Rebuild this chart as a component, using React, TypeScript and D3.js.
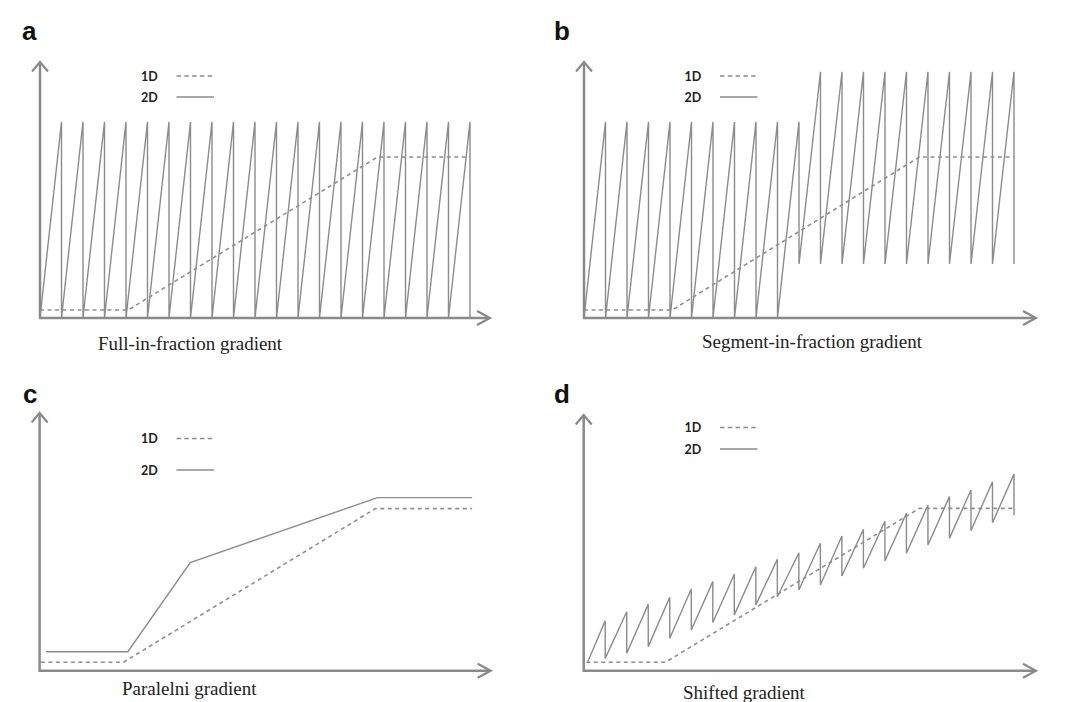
import React from 'react';
import * as d3 from 'd3';

// ---- data (x in "fraction" units 0..20, y in relative units 0..100) ----
const toothX = [1, 2, 3, 4, 5, 6, 7, 8, 9, 10, 11, 12, 13, 14, 15, 16, 17, 18, 19, 20];

// panel a: full-in-fraction gradient
const aStart = 0;
const aPeaks = [76.6, 76.6, 76.6, 76.6, 76.6, 76.6, 76.6, 76.6, 76.6, 76.6, 76.6, 76.6, 76.6, 76.6, 76.6, 76.6, 76.6, 76.6, 76.6, 76.6];
const aTroughs = [0, 0, 0, 0, 0, 0, 0, 0, 0, 0, 0, 0, 0, 0, 0, 0, 0, 0, 0, 0];
const a1DX = [0, 4.1, 15.7, 20];
const a1DY = [3.1, 3.1, 62.9, 62.9];

// panel b: segment-in-fraction gradient
const bStart = 0;
const bPeaks = [76.6, 76.6, 76.6, 76.6, 76.6, 76.6, 76.6, 76.6, 76.6, 76.6, 96.2, 96.2, 96.2, 96.2, 96.2, 96.2, 96.2, 96.2, 96.2, 96.2];
const bTroughs = [0, 0, 0, 0, 0, 0, 0, 0, 0, 21.1, 21.1, 21.1, 21.1, 21.1, 21.1, 21.1, 21.1, 21.1, 21.1, 21.1];
const b1DX = [0, 4.1, 15.6, 20];
const b1DY = [3.1, 3.1, 62.9, 62.9];

// panel c: paralelni gradient
const c1DX = [0.06, 3.9, 15.6, 20.1];
const c1DY = [3.3, 3.3, 63.3, 63.3];
const c2DX = [0.3, 4.1, 7.0, 15.7, 20.1];
const c2DY = [7.4, 7.4, 42.2, 67.6, 67.6];

// panel d: shifted gradient
const dStartX = 0.19;
const dStart = 3.5;
const dPeaks = [19.5, 23.0, 25.9, 28.7, 31.9, 34.8, 37.7, 40.6, 43.5, 46.1, 49.8, 52.6, 55.2, 58.4, 61.5, 64.7, 68.0, 70.6, 73.8, 76.8];
const dTroughs = [4.8, 6.8, 9.4, 12.7, 15.9, 18.8, 21.8, 25.7, 28.9, 31.5, 33.5, 37.0, 40.0, 42.9, 45.9, 49.1, 51.7, 54.7, 57.8, 60.8];
const d1DX = [0.12, 3.8, 15.6, 20];
const d1DY = [3.3, 3.3, 63.4, 63.4];

const legendLabels = ['1D', '2D'];
const panelLetters = ['a', 'b', 'c', 'd'];
const captions = ['Full-in-fraction gradient', 'Segment-in-fraction gradient', 'Paralelni gradient', 'Shifted gradient'];

type Pt = [number, number];

function sawtooth(startX: number, startY: number, xs: number[], peaks: number[], troughs: number[]): Pt[] {
  const pts: Pt[] = [[startX, startY]];
  xs.forEach((x, i) => {
    pts.push([x, peaks[i]]);
    pts.push([x, troughs[i]]);
  });
  return pts;
}

function zipPts(xs: number[], ys: number[]): Pt[] {
  return xs.map((x, i) => [x, ys[i]] as Pt);
}

const AXIS = '#8a8a8a';
const LINE = '#8c8c8c';

interface PanelProps {
  axisX: number;
  axisY: number;
  topY: number;
  rightX: number;
  plotRight: number;
  letter: string;
  letterX: number;
  letterY: number;
  caption: string;
  capX: number;
  capY: number;
  legX: number;
  legY: [number, number];
  solid: Pt[];
  dashed: Pt[];
}

function Panel(p: PanelProps) {
  const x = d3.scaleLinear().domain([0, 20]).range([p.axisX, p.plotRight]);
  const y = d3.scaleLinear().domain([0, 100]).range([p.axisY, p.axisY - 256]);
  const line = d3.line<Pt>().x((d) => x(d[0])).y((d) => y(d[1]));
  const legLineX1 = p.legX + 35.5;
  const legLineX2 = p.legX + 73;
  return (
    <g>
      <text x={p.letterX} y={p.letterY} fontFamily="'Liberation Sans', Arial, sans-serif" fontWeight="bold" fontSize={26} fill="#111">
        {p.letter}
      </text>
      {/* axes */}
      <line x1={p.axisX} y1={p.topY + 1} x2={p.axisX} y2={p.axisY} stroke={AXIS} strokeWidth={2.5} />
      <line x1={p.axisX - 1} y1={p.axisY} x2={p.rightX - 1} y2={p.axisY} stroke={AXIS} strokeWidth={2.5} />
      <path d={`M${p.axisX - 8},${p.topY + 9.5}L${p.axisX},${p.topY}L${p.axisX + 8},${p.topY + 9.5}`} fill="none" stroke={AXIS} strokeWidth={2.2} />
      <path d={`M${p.rightX - 13},${p.axisY - 7}L${p.rightX},${p.axisY}L${p.rightX - 13},${p.axisY + 7}`} fill="none" stroke={AXIS} strokeWidth={2.2} />
      {/* series */}
      <path d={line(p.dashed) || ''} fill="none" stroke="#8f8f8f" strokeWidth={1.6} strokeDasharray="4,3.5" />
      <path d={line(p.solid) || ''} fill="none" stroke={LINE} strokeWidth={1.4} strokeLinejoin="miter" />
      {/* legend */}
      {legendLabels.map((lab, i) => (
        <g key={lab}>
          <text x={p.legX} y={p.legY[i]} dy="0.36em" fontFamily="Lato, 'Open Sans', sans-serif" fontWeight="bold" fontSize={12.5} fill="#222">
            {lab}
          </text>
          <line x1={legLineX1} x2={legLineX2} y1={p.legY[i]} y2={p.legY[i]} stroke={LINE} strokeWidth={1.5} strokeDasharray={i === 0 ? '4.5,3.3' : undefined} />
        </g>
      ))}
      <text x={p.capX} y={p.capY} fontFamily="'Liberation Serif', 'Times New Roman', serif" fontSize={19} fill="#222">
        {p.caption}
      </text>
    </g>
  );
}

export default function App() {
  const panels: PanelProps[] = [
    {
      axisX: 40, axisY: 318, topY: 62, rightX: 490, plotRight: 470,
      letter: panelLetters[0], letterX: 22, letterY: 40,
      caption: captions[0], capX: 98, capY: 350,
      legX: 141, legY: [76, 97],
      solid: sawtooth(0, aStart, toothX, aPeaks, aTroughs),
      dashed: zipPts(a1DX, a1DY),
    },
    {
      axisX: 584, axisY: 318, topY: 62, rightX: 1036, plotRight: 1014,
      letter: panelLetters[1], letterX: 554, letterY: 40,
      caption: captions[1], capX: 702, capY: 348,
      legX: 684.5, legY: [76, 97],
      solid: sawtooth(0, bStart, toothX, bPeaks, bTroughs),
      dashed: zipPts(b1DX, b1DY),
    },
    {
      axisX: 39.6, axisY: 670.7, topY: 413, rightX: 490.7, plotRight: 470,
      letter: panelLetters[2], letterX: 23, letterY: 403,
      caption: captions[2], capX: 122, capY: 695,
      legX: 141, legY: [438.5, 470],
      solid: zipPts(c2DX, c2DY),
      dashed: zipPts(c1DX, c1DY),
    },
    {
      axisX: 583.7, axisY: 670.7, topY: 415, rightX: 1036, plotRight: 1014,
      letter: panelLetters[3], letterX: 554, letterY: 403,
      caption: captions[3], capX: 683, capY: 699,
      legX: 684.5, legY: [427.5, 449],
      solid: sawtooth(dStartX, dStart, toothX, dPeaks, dTroughs),
      dashed: zipPts(d1DX, d1DY),
    },
  ];
  return (
    <svg
      width={1079}
      height={702}
      viewBox="0 0 1079 702"
      style={{ position: 'absolute', left: 0, top: 0, background: '#fff' }}
    >
      <rect x={0} y={0} width={1079} height={702} fill="#fff" />
      {panels.map((p) => (
        <Panel key={p.letter} {...p} />
      ))}
    </svg>
  );
}
